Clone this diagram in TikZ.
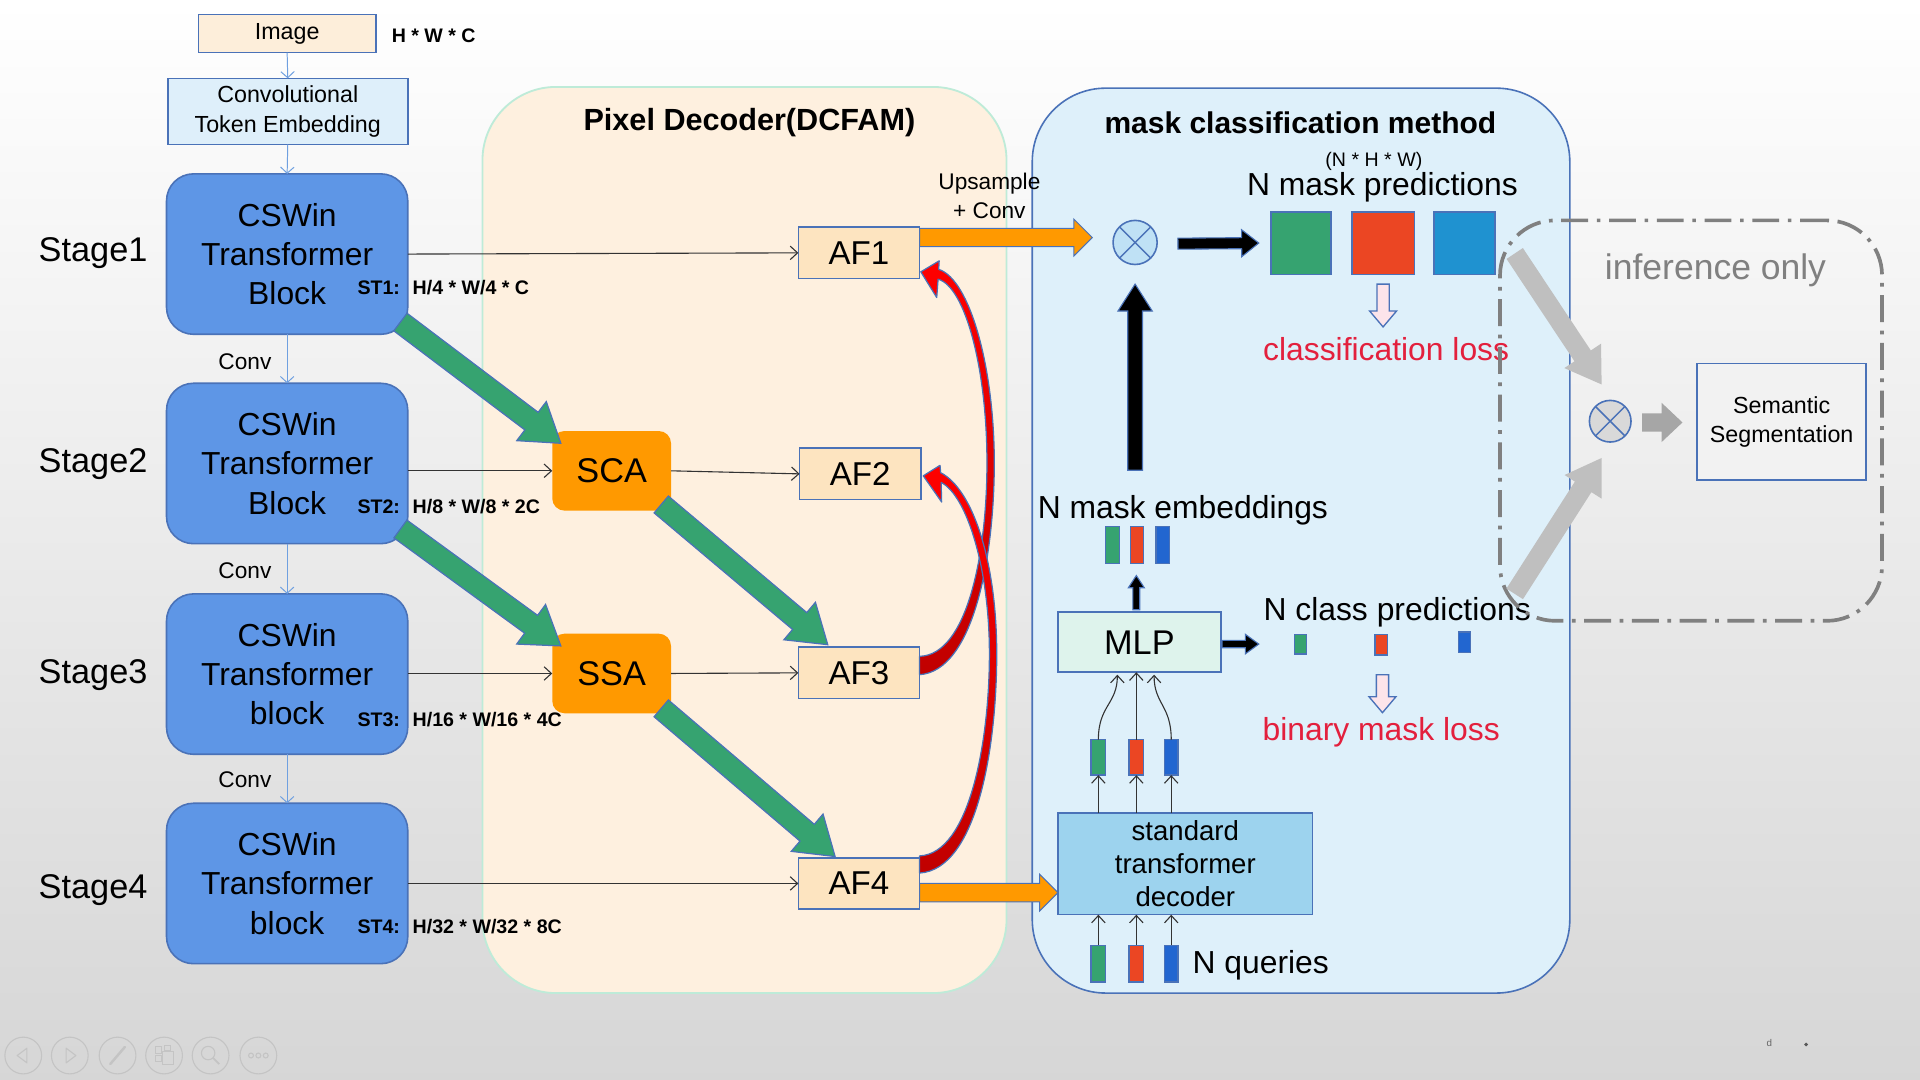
\documentclass[tikz,border=0pt]{standalone}
\usepackage{fontspec}
\setmainfont{Liberation Sans}
\usetikzlibrary{calc,arrows.meta}
\definecolor{bordb}{HTML}{4A72B8}
\definecolor{stagef}{HTML}{5E96E6}
\definecolor{imgf}{HTML}{FDEEDA}
\definecolor{ctef}{HTML}{DEEFFA}
\definecolor{pixf}{HTML}{FEF0DF}
\definecolor{mintb}{HTML}{BEEBD8}
\definecolor{aff}{HTML}{FDE4C0}
\definecolor{orng}{HTML}{FF9900}
\definecolor{greenA}{HTML}{36A370}
\definecolor{mcmf}{HTML}{DEF0FA}
\definecolor{mlpf}{HTML}{DEF3EC}
\definecolor{decf}{HTML}{9DD3EE}
\definecolor{gbar}{HTML}{36A370}
\definecolor{rbar}{HTML}{EB4623}
\definecolor{bbar}{HTML}{2266D0}
\definecolor{bsq}{HTML}{1F92D0}
\definecolor{redtxt}{HTML}{E3203D}
\definecolor{pinkf}{HTML}{FCE4EA}
\definecolor{grayd}{HTML}{808080}
\definecolor{grayA}{HTML}{BFBFBF}
\definecolor{grayB}{HTML}{A6A6A6}
\definecolor{semf}{HTML}{F2F2F2}
\definecolor{multtwo}{HTML}{D9D9D9}
\definecolor{multone}{HTML}{BFE1F5}
\definecolor{thinblue}{HTML}{6FA0E0}
\definecolor{redtop}{HTML}{FF0000}
\definecolor{redbot}{HTML}{C00000}
\definecolor{tbgray}{HTML}{C4C4C4}

% block arrow: style, start, end, shaft half width, head half width, head length
\newcommand\blockarrow[6]{%
  \path[#1] ($(#2)!#4!90:(#3)$)
    -- ($($(#3)!#6!(#2)$)!#4!90:(#3)$)
    -- ($($(#3)!#6!(#2)$)!#5!90:(#3)$)
    -- (#3)
    -- ($($(#3)!#6!(#2)$)!#5!-90:(#3)$)
    -- ($($(#3)!#6!(#2)$)!#4!-90:(#3)$)
    -- ($(#2)!#4!-90:(#3)$) -- cycle;}

\tikzset{
  every node/.style={inner sep=0pt, outer sep=0pt},
  boxb/.style={draw=bordb, line width=1.3pt},
  stagebox/.style={boxb, fill=stagef, rounded corners=22pt, minimum width=197pt,
    minimum height=131pt, align=center, font=\fontsize{26}{32}\selectfont},
  stagelbl/.style={font=\fontsize{28}{32}\selectfont},
  convlbl/.style={font=\fontsize{18.5}{22}\selectfont},
  stl/.style={anchor=west, font=\bfseries\fontsize{16}{18}\selectfont},
  afbox/.style={boxb, fill=aff, minimum width=99pt, minimum height=42pt, font=\fontsize{27}{30}\selectfont},
  orbox/.style={fill=orng, rounded corners=10pt, minimum width=97pt, minimum height=65pt, font=\fontsize{28}{30}\selectfont},
  bigtxt/.style={font=\fontsize{26}{30}\selectfont},
  redlbl/.style={text=redtxt, font=\fontsize{26}{30}\selectfont},
  bar/.style={draw=bordb, line width=1.1pt},
  thinb/.style={draw=thinblue, line width=0.8pt, -{Straight Barb[length=5pt,width=11pt]}},
  think/.style={draw=black!80, line width=0.9pt, -{Straight Barb[length=6pt,width=11pt]}},
  greenarr/.style={fill=greenA, draw=bordb, line width=1pt},
  orarr/.style={fill=orng, draw=bordb, line width=0.8pt},
  blackarr/.style={fill=black, draw=bordb, line width=0.9pt},
  pinkarr/.style={fill=pinkf, draw=bordb, line width=1.1pt},
  redarr/.style={draw=bordb, line width=1pt, line join=round, top color=redtop, bottom color=redbot},
  tbicon/.style={draw=tbgray, line width=0.9pt},
}

\begin{document}
\begin{tikzpicture}[x=1pt,y=-1pt]
\useasboundingbox (0,0) rectangle (1568,882);
\shade[top color=white, middle color=gray!7, bottom color=gray!32] (0,0) rectangle (1568,882);

% panels
\node[draw=mintb, line width=1.5pt, fill=pixf, rounded corners=60pt, minimum width=428pt, minimum height=740pt] (pix) at (608,441) {};
\node[boxb, fill=mcmf, rounded corners=60pt, minimum width=439pt, minimum height=739pt] (mcm) at (1062.5,441.5) {};
\node[font=\bfseries\fontsize{25}{30}\selectfont] (pixt) at (612,100) {Pixel Decoder(DCFAM)};
\node[font=\bfseries\fontsize{24.5}{30}\selectfont] (mcmt) at (1062,100) {mask classification method};

% left column
\node[boxb, fill=imgf, minimum width=145pt, minimum height=31pt, font=\fontsize{19}{23}\selectfont] (img) at (234.5,27.5) {Image};
\node[anchor=west, font=\bfseries\fontsize{16}{18}\selectfont] (hwc) at (320,29) {H * W * C};
\node[boxb, fill=ctef, minimum width=196pt, minimum height=54pt, align=center, font=\fontsize{19}{24}\selectfont] (cte) at (235,91) {Convolutional\\Token Embedding};

\node[stagebox] (st1) at (234.5,207.5) {CSWin\\Transformer\\Block};
\node[stagebox] (st2) at (234.5,378.5) {CSWin\\Transformer\\Block};
\node[stagebox] (st3) at (234.5,550.5) {CSWin\\Transformer\\block};
\node[stagebox] (st4) at (234.5,721.5) {CSWin\\Transformer\\block};

\node[stagelbl] (s1l) at (76,207) {Stage1};
\node[stagelbl] (s2l) at (76,379) {Stage2};
\node[stagelbl] (s3l) at (76,551) {Stage3};
\node[stagelbl] (s4l) at (76,727) {Stage4};

\node[convlbl] (c1l) at (200,295) {Conv};
\node[convlbl] (c2l) at (200,466) {Conv};
\node[convlbl] (c3l) at (200,637) {Conv};

\node[stl] (st1a) at (292,235) {ST1:};
\node[stl] (st1b) at (337,235) {H/4 * W/4 * C};
\node[stl] (st2a) at (292,414) {ST2:};
\node[stl] (st2b) at (337,414) {H/8 * W/8 * 2C};
\node[stl] (st3a) at (292,588) {ST3:};
\node[stl] (st3b) at (337,588) {H/16 * W/16 * 4C};
\node[stl] (st4a) at (292,757) {ST4:};
\node[stl] (st4b) at (337,757) {H/32 * W/32 * 8C};

\draw[thinb] (img.south) -- (cte.north);
\draw[thinb] (cte.south) -- (st1.north);
\draw[thinb] (st1.south) -- (st2.north);
\draw[thinb] (st2.south) -- (st3.north);
\draw[thinb] (st3.south) -- (st4.north);

% pixel decoder
\node[orbox] (sca) at (499.5,384.5) {SCA};
\node[orbox] (ssa) at (499.5,550) {SSA};
\node[afbox] (af1) at (701.5,206.5) {AF1};
\node[afbox] (af2) at (702.5,387) {AF2};
\node[afbox] (af3) at (701.5,549.5) {AF3};
\node[afbox] (af4) at (701.5,721.5) {AF4};

\draw[think] (st1.east) -- (af1.west);
\draw[think] (st2.east |- sca.west) -- (sca.west);
\draw[think] (sca.east) -- (af2.west);
\draw[think] (st3.east |- ssa.west) -- (ssa.west);
\draw[think] (ssa.east) -- (af3.west);
\draw[think] (st4.east) -- (af4.west);

% green arrows
\coordinate (g1s) at ($(st1.south east)+(-6,-10)$);
\coordinate (g1e) at ($(sca.north west)+(7,10)$);
\coordinate (g2s) at ($(st2.south east)+(-6,-12)$);
\coordinate (g2e) at ($(ssa.north west)+(7,10)$);
\coordinate (g3s) at ($(sca.south east)+(-8,-5)$);
\coordinate (g3e) at ($(af3.north west)+(24,-2)$);
\coordinate (g4s) at ($(ssa.south east)+(-8,-4)$);
\coordinate (g4e) at ($(af4.north west)+(30,-1)$);
\blockarrow{greenarr}{g1s}{g1e}{9pt}{20pt}{30pt}
\blockarrow{greenarr}{g2s}{g2e}{9pt}{20pt}{30pt}
\blockarrow{greenarr}{g3s}{g3e}{9pt}{20pt}{30pt}
\blockarrow{greenarr}{g4s}{g4e}{9pt}{20pt}{30pt}

% red curved arrows (AF3 -> AF1, AF4 -> AF2)
\path[redarr] (751,551) .. controls (795,548) and (812,455) .. (812,378)
  .. controls (812,300) and (792,228) .. (766.6,220) -- (767,213) -- (752,222) -- (765,243) -- (766.1,228)
  .. controls (788,234) and (806,300) .. (806,378) .. controls (806,452) and (790,535) .. (751,536) -- cycle;
\path[redarr] (751,713) .. controls (798,710) and (814,610) .. (814,534)
  .. controls (814,460) and (795,400) .. (768.2,386) -- (767.7,380) -- (754,388.6) -- (769,410) -- (768.6,394)
  .. controls (790,405) and (808,465) .. (808,534) .. controls (808,605) and (792,697) .. (751,699) -- cycle;

% mask classification
\node[circle, boxb, fill=multone, minimum size=36pt] (m1) at (927,198) {};
\draw[bordb, line width=1.2pt] (m1.north east) -- (m1.south west) (m1.north west) -- (m1.south east);

\node[font=\fontsize{16}{18}\selectfont] (nhw) at (1122,132) {(N * H * W)};
\node[bigtxt] (nmp) at (1129,153) {N mask predictions};
\node[bar, fill=gbar, minimum width=49pt, minimum height=51pt] (sq1) at (1062.5,198.5) {};
\node[bar, fill=rbar, minimum width=51pt, minimum height=51pt] (sq2) at (1129.5,198.5) {};
\node[bar, fill=bsq, minimum width=50pt, minimum height=51pt] (sq3) at (1196,198.5) {};
\node[redlbl] (cll) at (1132,285) {classification loss};

\coordinate (o1s) at ($(af1.north east)+(0,8.5)$);
\coordinate (o1e) at ($(m1.west)+(-17,-4)$);
\blockarrow{orarr}{o1s}{o1e}{7.5pt}{15pt}{15pt}
\node[align=center, font=\fontsize{18.5}{23}\selectfont] (ups) at (808,160) {Upsample\\+ Conv};

\coordinate (k1s) at ($(m1.east)+(17,1)$);
\coordinate (k1e) at ($(sq1.west)+(-10,0)$);
\blockarrow{blackarr}{k1s}{k1e}{4.5pt}{11pt}{14pt}

\coordinate (p1s) at ($(sq2.south)+(0,8)$);
\coordinate (p1e) at ($(sq2.south)+(0,43)$);
\blockarrow{pinkarr}{p1s}{p1e}{5pt}{11pt}{13pt}

\node[bigtxt] (nme) at (966,417) {N mask embeddings};
\node[bar, fill=gbar, minimum width=11pt, minimum height=30pt] (eb1) at (908.5,445) {};
\node[bar, fill=rbar, minimum width=11pt, minimum height=30pt] (eb2) at (928.5,445) {};
\node[bar, fill=bbar, minimum width=11pt, minimum height=30pt] (eb3) at (949.5,445) {};

\coordinate (bus) at (927,384);
\coordinate (bue) at ($(m1.south)+(0,16)$);
\blockarrow{blackarr}{bus}{bue}{6pt}{14pt}{22pt}

\node[boxb, fill=mlpf, minimum width=133pt, minimum height=49pt, font=\fontsize{28}{30}\selectfont] (mlp) at (930.5,524.5) {MLP};
\coordinate (k2s) at ($(mlp.north)+(-2.5,-2)$);
\coordinate (k2e) at ($(eb2.south)+(-0.5,10)$);
\blockarrow{blackarr}{k2s}{k2e}{2.8pt}{6.5pt}{10pt}
\coordinate (k3s) at ($(mlp.east)+(1,1.5)$);
\coordinate (k3e) at ($(mlp.east)+(31,1.5)$);
\blockarrow{blackarr}{k3s}{k3e}{3pt}{8pt}{11pt}

\node[bigtxt] (ncp) at (1141,500) {N class predictions};
\node[bar, fill=gbar, minimum width=10pt, minimum height=16pt] (cb1) at (1062,526) {};
\node[bar, fill=rbar, minimum width=10pt, minimum height=17pt] (cb2) at (1128,526.5) {};
\node[bar, fill=bbar, minimum width=10pt, minimum height=17pt] (cb3) at (1196,524.5) {};
\coordinate (p2s) at ($(cb2.south)+(1,16)$);
\coordinate (p2e) at ($(cb2.south)+(1,47)$);
\blockarrow{pinkarr}{p2s}{p2e}{5pt}{11pt}{13pt}
\node[redlbl] (bml) at (1128,598) {binary mask loss};

\node[bar, fill=gbar, minimum width=12pt, minimum height=29pt] (mb1) at (897,618.5) {};
\node[bar, fill=rbar, minimum width=12pt, minimum height=29pt] (mb2) at (928,618.5) {};
\node[bar, fill=bbar, minimum width=11pt, minimum height=29pt] (mb3) at (956.5,618.5) {};
\draw[think] (mb1.north) .. controls ($(mb1.north)+(0,-28)$) and ($(mlp.south)+(-18,26)$) .. ($(mlp.south)+(-18,2)$);
\draw[think] (mb2.north) -- (mb2.north |- mlp.south);
\draw[think] (mb3.north) .. controls ($(mb3.north)+(0,-28)$) and ($(mlp.south)+(12,26)$) .. ($(mlp.south)+(12,2)$);

\node[boxb, fill=decf, minimum width=208pt, minimum height=83pt, align=center, font=\fontsize{22.5}{27}\selectfont] (dec) at (968,705.5) {standard\\transformer\\decoder};
\draw[think] (mb1.south |- dec.north) -- (mb1.south);
\draw[think] (mb2.south |- dec.north) -- (mb2.south);
\draw[think] (mb3.south |- dec.north) -- (mb3.south);

\node[bar, fill=gbar, minimum width=12pt, minimum height=30pt] (qb1) at (897,787) {};
\node[bar, fill=rbar, minimum width=12pt, minimum height=30pt] (qb2) at (928,787) {};
\node[bar, fill=bbar, minimum width=11pt, minimum height=30pt] (qb3) at (956.5,787) {};
\draw[think] (qb1.north) -- (qb1.north |- dec.south);
\draw[think] (qb2.north) -- (qb2.north |- dec.south);
\draw[think] (qb3.north) -- (qb3.north |- dec.south);
\node[bigtxt, anchor=west] (nq) at (974,788) {N queries};

\coordinate (o2s) at ($(af4.east)+(0,7.5)$);
\coordinate (o2e) at (dec.west |- o2s);
\blockarrow{orarr}{o2s}{o2e}{7.5pt}{15pt}{15pt}

% inference only
\node[draw=grayd, line width=3pt, dash pattern=on 22pt off 7pt on 3pt off 7pt, rounded corners=45pt, minimum width=312pt, minimum height=327pt] (inf) at (1381,343.5) {};
\node[text=grayd, font=\fontsize{29}{32}\selectfont] (inft) at (1401,221) {inference only};
\node[circle, boxb, fill=multtwo, minimum size=34pt] (m2) at (1315,344) {};
\draw[bordb, line width=1.2pt] (m2.north east) -- (m2.south west) (m2.north west) -- (m2.south east);
\node[boxb, fill=semf, minimum width=138pt, minimum height=95pt, align=center, font=\fontsize{19}{24}\selectfont] (sem) at (1455,344.5) {Semantic\\Segmentation};
\coordinate (ga1s) at (1237,207);
\coordinate (ga1e) at ($(m2.north west)+(5,-18)$);
\coordinate (ga2s) at (1237,485);
\coordinate (ga2e) at ($(m2.south west)+(5,18)$);
\blockarrow{fill=grayA}{ga1s}{ga1e}{8pt}{18pt}{28pt}
\blockarrow{fill=grayA}{ga2s}{ga2e}{8pt}{18pt}{28pt}
\coordinate (ga3s) at ($(m2.east)+(9,1)$);
\coordinate (ga3e) at ($(sem.west)+(-12,0.5)$);
\blockarrow{fill=grayB}{ga3s}{ga3e}{7.5pt}{16pt}{17pt}

% viewer toolbar
\foreach \i/\xx in {1/19,2/57,3/96,4/134,5/172,6/211}{
  \node[circle, tbicon, minimum size=30pt] (tb\i) at (\xx,862) {};
}
\draw[tbicon, line join=round] ($(tb1)+(-5,0)$) -- ($(tb1)+(3,-6)$) -- ($(tb1)+(3,6)$) -- cycle;
\draw[tbicon, line join=round] ($(tb2)+(5,0)$) -- ($(tb2)+(-3,-6)$) -- ($(tb2)+(-3,6)$) -- cycle;
\draw[tbicon, line width=2pt, line cap=round] ($(tb3)+(-6,7)$) -- ($(tb3)+(6,-7)$);
\draw[tbicon] ($(tb4)+(-7,-7)$) rectangle ($(tb4)+(-2,-2)$);
\draw[tbicon] ($(tb4)+(0,-8)$) rectangle ($(tb4)+(5,-4)$);
\draw[tbicon] ($(tb4)+(-7,0)$) rectangle ($(tb4)+(-2,5)$);
\draw[tbicon] ($(tb4)+(-1,-3)$) rectangle ($(tb4)+(8,7)$);
\draw[tbicon] ($(tb5)+(-2,-2)$) circle (5.5pt);
\draw[tbicon, line width=1.5pt] ($(tb5)+(2,2)$) -- ($(tb5)+(7,7)$);
\draw[tbicon] ($(tb6)+(-6,0)$) circle (2pt) (tb6) circle (2pt) ($(tb6)+(6,0)$) circle (2pt);
\node[text=black!60, font=\fontsize{8}{9}\selectfont] (dmark) at (1445,852) {d};
\fill[black!65] (1475,853) circle (1.6pt);
\end{tikzpicture}
\end{document}
